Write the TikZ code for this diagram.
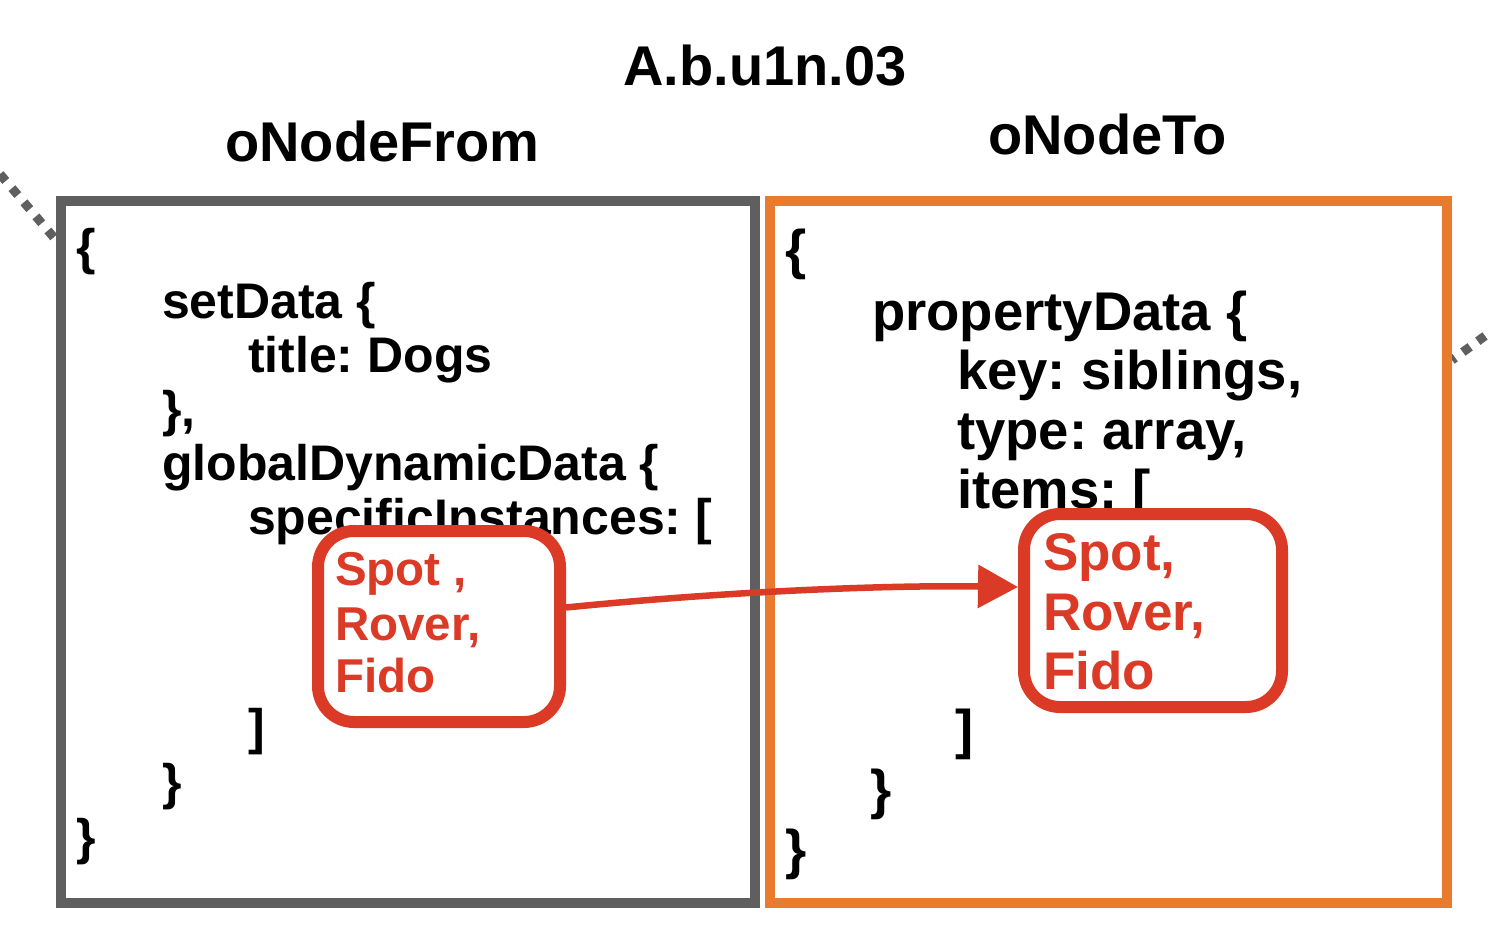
\documentclass[tikz,border=0pt]{standalone}
\usepackage{fontspec}
\setmainfont{Liberation Sans}
\usetikzlibrary{arrows.meta}
\definecolor{boxgray}{HTML}{5F5F5F}
\definecolor{boxorange}{HTML}{E97B2F}
\definecolor{hlred}{HTML}{DB3A26}
\frenchspacing
\tikzset{
  txt/.style={anchor=base west, inner sep=0pt, outer sep=0pt, font=\frenchspacing\bfseries\fontsize{50}{54}\selectfont},
  txtR/.style={anchor=base west, inner sep=0pt, outer sep=0pt, font=\frenchspacing\bfseries\fontsize{54.5}{60}\selectfont},
  head/.style={anchor=base west, inner sep=0pt, font=\bfseries\fontsize{56}{60}\selectfont},
  redtxtL/.style={anchor=base west, inner sep=0pt, text=hlred, font=\bfseries\fontsize{47.5}{54}\selectfont},
  redtxtR/.style={anchor=base west, inner sep=0pt, text=hlred, font=\bfseries\fontsize{53}{60}\selectfont},
  redbox/.style={draw=hlred, line width=12pt, rounded corners=36pt, fill=white, inner sep=0pt},
  bigbox/.style={line width=10pt, inner sep=0pt},
  dotline/.style={draw=boxgray, line width=9pt, dash pattern=on 9pt off 9.5pt},
  flow/.style={draw=hlred, line width=6.5pt, -{Triangle[length=40pt,width=42pt]}}
}
\begin{document}
\begin{tikzpicture}[x=1pt,y=-1pt]
\useasboundingbox (0,0) rectangle (1488,928);
\clip (0,0) rectangle (1488,928);
% dotted connectors leaving frame
\coordinate (dl0) at (-12,160);
\coordinate (dl1) at (56,240);
\coordinate (dr0) at (1500,325);
\coordinate (dr1) at (1452,360);
\draw[dotline] (dl0) -- (dl1);
\draw[dotline] (dr0) -- (dr1);
% titles
\node[anchor=base, inner sep=0pt, font=\bfseries\fontsize{56}{60}\selectfont] (title) at (765,86) {A.b.u1n.03};
\node[head] (hfrom) at (225,162) {oNodeFrom};
\node[head] (hto) at (988,155) {oNodeTo};
% main boxes
\draw[bigbox, draw=boxgray] (61,201) rectangle (754.5,903);
\draw[bigbox, draw=boxorange] (770,201) rectangle (1447,903);
% left text
\node[txt] (l1) at (76,264) {\{};
\node[txt] (l2) at (162,318) {setData \{};
\node[txt] (l3) at (248,372) {title: Dogs};
\node[txt] (l4) at (162,426) {\},};
\node[txt] (l5) at (162,480) {globalDynamicData \{};
\node[txt] (l6) at (248,534) {specificInstances: [};
\node[txt] (l7) at (248,744) {]};
\node[txt] (l8) at (162,799) {\}};
\node[txt] (l9) at (76,854) {\}};
% right text
\node[txtR] (r1) at (785,268) {\{};
\node[txtR] (r2) at (872,330) {propertyData \{};
\node[txtR] (r3) at (957,389) {key: siblings,};
\node[txtR] (r4) at (957,449) {type: array,};
\node[txtR] (r5) at (957,508) {items: [};
\node[txtR] (r6) at (955,748) {]};
\node[txtR] (r7) at (870,808) {\}};
\node[txtR] (r8) at (785,868) {\}};
% red boxes
\node[redbox, minimum width=242pt, minimum height=191pt] (lred) at (439,626.5) {};
\node[redbox, minimum width=258pt, minimum height=193pt] (rred) at (1153,610.5) {};
\node[redtxtL] (lt1) at (335,585) {Spot ,};
\node[redtxtL] (lt2) at (335,640) {Rover,};
\node[redtxtL] (lt3) at (335,692) {Fido};
\node[redtxtR] (rt1) at (1043,570) {Spot,};
\node[redtxtR] (rt2) at (1043,630) {Rover,};
\node[redtxtR] (rt3) at (1043,689) {Fido};
% arrow
\draw[flow] ([yshift=19pt]lred.east) .. controls (720,592) and (880,585) .. ([yshift=23.5pt]rred.west);
\end{tikzpicture}
\end{document}
